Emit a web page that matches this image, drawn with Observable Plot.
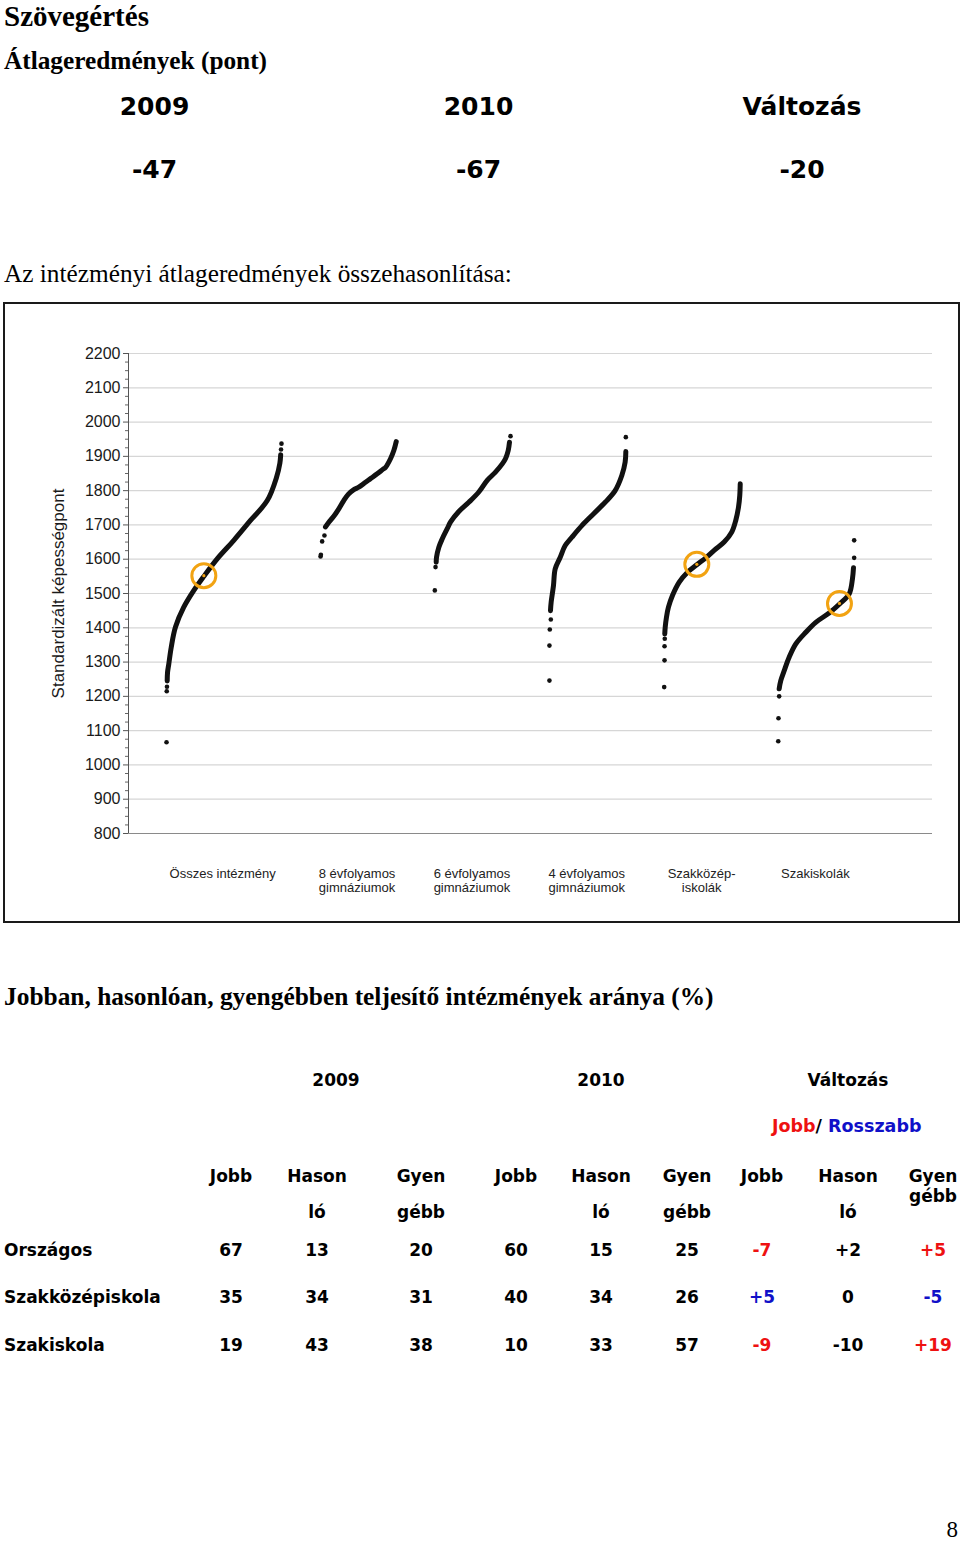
<!DOCTYPE html>
<html><head><meta charset="utf-8">
<script src="https://cdn.jsdelivr.net/npm/d3@7"></script>
<script src="https://cdn.jsdelivr.net/npm/@observablehq/plot@0.6"></script>
<style>
body{margin:0;background:#fff;}
#page{position:relative;width:960px;height:1543px;overflow:hidden;background:#fff;}
.t{position:absolute;white-space:pre;line-height:1;}
.serif{font-family:"Liberation Serif","Times New Roman",serif;}
.sans{font-family:"DejaVu Sans",Verdana,sans-serif;font-weight:bold;}
#chartbox{position:absolute;left:3px;top:302px;width:953px;height:617px;border:2px solid #1a1a1a;background:#fff;}
#chartbox svg{display:block;}
</style></head><body><div id="page"><div id="chartbox"></div></div>
<script>
// ---------- data ----------
const pageTitle = "Szövegértés";
const avgTitle = "Átlageredmények (pont)";
const avgHeads = ["2009", "2010", "Változás"];
const avgValues = ["-47", "-67", "-20"];
const compareTitle = "Az intézményi átlageredmények összehasonlítása:";

const yLabel = "Standardizált képességpont";
const yTicks = [800, 900, 1000, 1100, 1200, 1300, 1400, 1500, 1600, 1700, 1800, 1900, 2000, 2100, 2200];
const categories = ["Összes intézmény", "8 évfolyamos\ngimnáziumok", "6 évfolyamos\ngimnáziumok", "4 évfolyamos\ngimnáziumok", "Szakközép-\niskolák", "Szakiskolák"];
const categoryPos = [0.82, 1.99, 2.99, 3.99, 4.99, 5.98];

// dense part of each ranked curve: [rank position, score]
const allLine = [[0.337,1245],[0.340,1270],[0.351,1295],[0.372,1343],[0.409,1402],[0.481,1460],[0.569,1509],[0.656,1550],[0.772,1601],[0.917,1655],[1.062,1713],[1.208,1771],[1.289,1839],[1.318,1880],[1.325,1905]];
const allDots = [[0.331,1066],[0.333,1215],[0.335,1228],[1.328,1920],[1.332,1937]];
const gym8Line = [[1.715,1694],[1.744,1708],[1.787,1725],[1.831,1747],[1.874,1771],[1.913,1789],[1.962,1803],[2.005,1810],[2.057,1823],[2.107,1835],[2.165,1849],[2.214,1862],[2.238,1868],[2.281,1893],[2.310,1917],[2.331,1943]];
const gym8Dots = [[1.672,1608],[1.675,1613],[1.686,1652],[1.706,1669]];
const gym6Line = [[2.679,1591],[2.682,1606],[2.702,1635],[2.731,1659],[2.775,1689],[2.803,1708],[2.876,1739],[2.963,1766],[3.050,1796],[3.123,1830],[3.195,1854],[3.254,1878],[3.282,1893],[3.306,1917],[3.317,1941]];
const gym6Dots = [[2.667,1509],[2.673,1577],[3.326,1959]];
const gym4Line = [[3.674,1450],[3.680,1475],[3.700,1523],[3.715,1572],[3.759,1606],[3.802,1640],[3.860,1664],[3.947,1698],[4.048,1732],[4.150,1766],[4.237,1800],[4.295,1844],[4.324,1883],[4.330,1914]];
const gym4Dots = [[3.665,1246],[3.665,1348],[3.668,1395],[3.677,1424],[4.330,1956]];
const szkLine = [[4.669,1382],[4.673,1402],[4.684,1431],[4.701,1460],[4.736,1494],[4.795,1533],[4.867,1562],[4.948,1584],[5.026,1604],[5.099,1626],[5.186,1650],[5.252,1679],[5.287,1713],[5.311,1752],[5.322,1786],[5.326,1820]];
const szkDots = [[4.664,1227],[4.667,1305],[4.667,1346],[4.669,1368]];
const szaLine = [[5.665,1222],[5.679,1246],[5.709,1275],[5.752,1314],[5.810,1353],[5.897,1387],[5.984,1416],[6.100,1443],[6.193,1470],[6.275,1499],[6.303,1543],[6.312,1575]];
const szaDots = [[5.657,1069],[5.659,1136],[5.665,1200],[6.318,1604],[6.318,1655]];
// this school's position in its groups
const schoolMarks = [[0.656,1552],[4.948,1585],[6.190,1471]];

const shareTitle = "Jobban, hasonlóan, gyengébben teljesítő intézmények aránya (%)";
const groupHeads = ["2009", "2010", "Változás"];
const legendBetter = "Jobb";
const legendWorse = "Rosszabb";
const colHeads = ["Jobb", "Hason\nló", "Gyen\ngébb", "Jobb", "Hason\nló", "Gyen\ngébb", "Jobb", "Hason\nló", "Gyen\ngébb"];
const rowNames = ["Országos", "Szakközépiskola", "Szakiskola"];
const share2009 = [[67, 13, 20], [35, 34, 31], [19, 43, 38]];
const share2010 = [[60, 15, 25], [40, 34, 26], [10, 33, 57]];
const shareChange = [["-7", "+2", "+5"], ["+5", "0", "-5"], ["-9", "-10", "+19"]];
const changeTone = [["r", "k", "r"], ["b", "k", "b"], ["r", "k", "r"]];
const pageNumber = "8";

// ---------- HTML text ----------
const page = document.getElementById("page");
const RED = "#ee1111", BLUE = "#1010c8";
function put(text, x, base, size, font, anchor = "start", color = "#000") {
  const el = document.createElement("div");
  el.className = "t " + font;
  el.textContent = text;
  el.style.fontSize = size + "px";
  el.style.color = color;
  const k = font === "serif" ? 0.8375 : 0.846;
  el.style.top = (base - k * size) + "px";
  el.style.left = x + "px";
  if (anchor === "middle") el.style.transform = "translateX(-50%)";
  if (anchor === "end") el.style.transform = "translateX(-100%)";
  page.appendChild(el);
  return el;
}
const serifBold = (el) => { el.style.fontWeight = "bold"; return el; };

{
  const el = serifBold(put(pageTitle, 4, 26, 29, "serif"));
  el.style.top = "0px";
  el.style.lineHeight = (2 * (26 - 0.891 * 29) + 1.107 * 29) + "px";
}
serifBold(put(avgTitle, 4, 69, 25.3, "serif"));
const avgX = [154.5, 478.5, 802];
avgHeads.forEach((h, i) => put(h, avgX[i], 115, 25, "sans", "middle"));
avgValues.forEach((v, i) => put(v, avgX[i], 178, 25, "sans", "middle"));
put(compareTitle, 4, 282, 25.3, "serif");

serifBold(put(shareTitle, 4, 1005, 25.4, "serif"));
const groupX = [336, 601, 848];
groupHeads.forEach((h, i) => put(h, groupX[i], 1086, 17, "sans", "middle"));
{
  const el = document.createElement("div");
  el.className = "t sans";
  el.style.fontSize = "17.5px";
  el.style.left = "772px";
  el.style.top = (1133 - 0.846 * 17.5) + "px";
  el.innerHTML = `<span style="color:${RED}">${legendBetter}</span>/ <span style="color:${BLUE}">${legendWorse}</span>`;
  page.appendChild(el);
}
const colX = [231, 317, 421, 516, 601, 687, 762, 848, 933];
colHeads.forEach((h, i) => {
  const parts = h.split("\n");
  put(parts[0], colX[i], 1182, 17, "sans", "middle");
  if (parts[1]) put(parts[1], colX[i], i === 8 ? 1202 : 1218, 17, "sans", "middle");
});
const rowBase = [1256, 1303, 1351];
rowNames.forEach((r, j) => {
  put(r, 4, rowBase[j], 17, "sans");
  const vals = [...share2009[j], ...share2010[j], ...shareChange[j]];
  vals.forEach((v, i) => {
    let color = "#000";
    if (i >= 6) { const t = changeTone[j][i - 6]; color = t === "r" ? RED : t === "b" ? BLUE : "#000"; }
    put(String(v), colX[i], rowBase[j], 17, "sans", "middle", color);
  });
});
{
  const el = put(pageNumber, 958, 1538, 23, "serif", "end");
  el.style.lineHeight = "20px";
  el.style.top = (1538 - 20 / 2 - (0.891 - 0.216) * 23 / 2) + "px";
}

// ---------- chart ----------
const curves = [
  ["all", allLine, allDots], ["g8", gym8Line, gym8Dots], ["g6", gym6Line, gym6Dots],
  ["g4", gym4Line, gym4Dots], ["szk", szkLine, szkDots], ["sza", szaLine, szaDots]
];
const lineData = curves.flatMap(([c, line]) => line.map(([x, y]) => ({c, x, y})));
const dotData = curves.flatMap(([c, , dots]) => dots.map(([x, y]) => ({c, x, y})));
const markData = schoolMarks.map(([x, y]) => ({x, y}));
const minorTicks = d3.range(800, 2201, 25).filter(v => v % 100 !== 0);
const catLabel = new Map(categoryPos.map((p, i) => [p, categories[i]]));
const ORANGE = "#f2a312";

const chart = Plot.plot({
  width: 953,
  height: 617,
  marginLeft: 123,
  marginRight: 26,
  marginTop: 49,
  marginBottom: 88,
  style: {fontFamily: "'Liberation Sans', Arial, sans-serif", background: "#fff", color: "#222"},
  x: {domain: [0, 7], axis: null},
  y: {domain: [800, 2200], axis: null},
  marks: [
    Plot.ruleY(yTicks.filter(v => v !== 800), {stroke: "#d6d6d6", strokeWidth: 1.2}),
    Plot.ruleY([800], {stroke: "#8a8a8a", strokeWidth: 1.2}),
    Plot.ruleX([0], {y1: 800, y2: 2200, stroke: "#555", strokeWidth: 1}),
    Plot.axisY({ticks: yTicks, tickSize: 5, tickPadding: 3, fontSize: 16, tickFormat: d => String(d), label: null, stroke: "#555", fill: "#1a1a1a"}),
    Plot.axisY({ticks: minorTicks, tickSize: 3, tickPadding: 0, tickFormat: () => "", label: null, stroke: "#666"}),
    Plot.text([yLabel], {frameAnchor: "left", textAnchor: "middle", dx: -70, rotate: -90, fontSize: 17, fill: "#1a1a1a"}),
    Plot.axisX({ticks: categoryPos, tickFormat: d => catLabel.get(d), tickSize: 0, tickPadding: 34, fontSize: 13, lineHeight: 1.1, label: null, fill: "#222"}),
    Plot.line(lineData, {x: "x", y: "y", z: "c", stroke: "#111", strokeWidth: 5, strokeLinecap: "round", strokeLinejoin: "round", curve: "catmull-rom"}),
    Plot.dot(dotData, {x: "x", y: "y", r: 2.3, fill: "#111"}),
    Plot.dot(markData, {x: "x", y: "y", r: 12, stroke: ORANGE, strokeWidth: 3, fill: "none"}),
    Plot.dot(markData, {x: "x", y: "y", r: 1.6, fill: ORANGE})
  ]
});
document.getElementById("chartbox").appendChild(chart);
</script></body></html>
